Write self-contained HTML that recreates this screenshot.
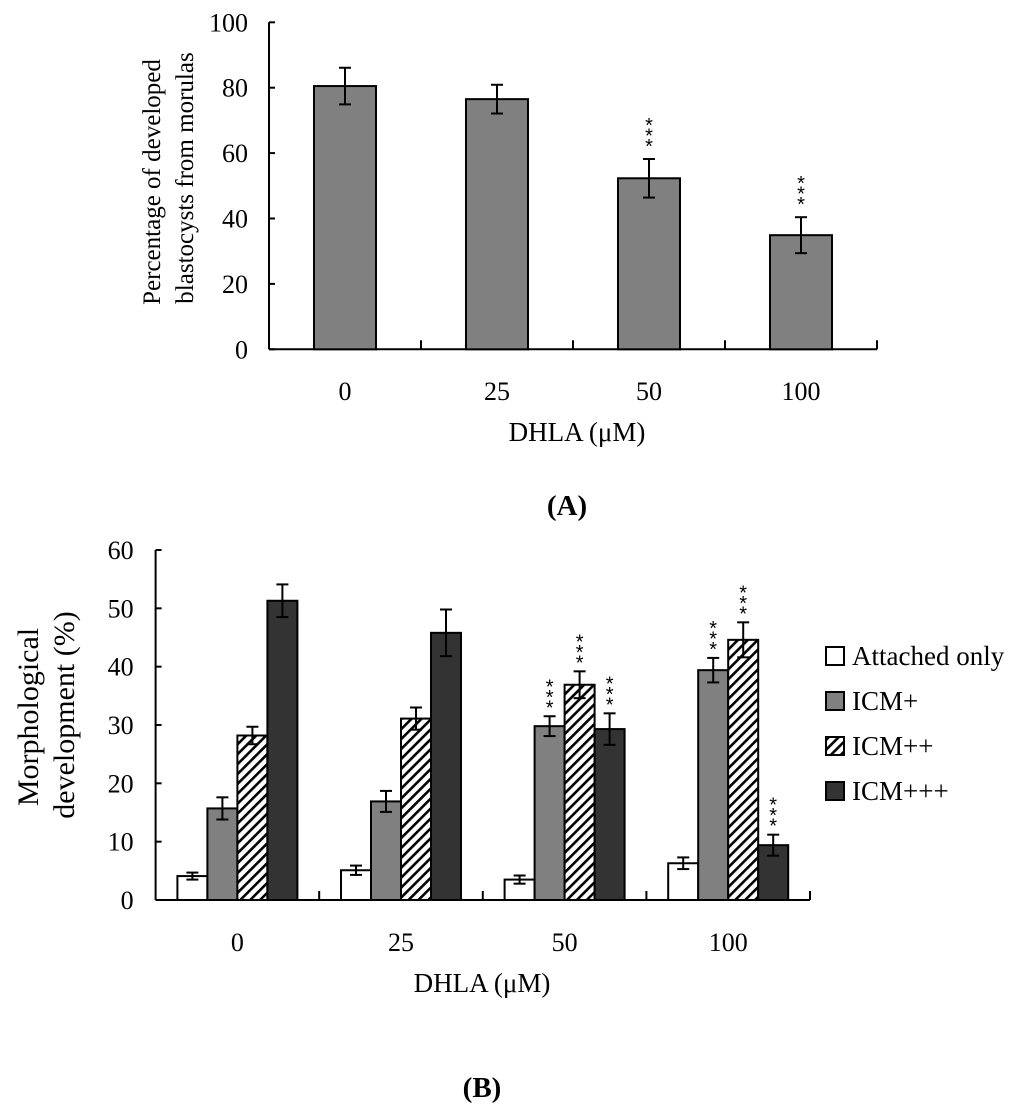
<!DOCTYPE html>
<html><head><meta charset="utf-8"><style>
body{margin:0;background:#fff}
svg{display:block;font-family:"Liberation Serif",serif}
</style></head><body>
<svg id="chart" width="1024" height="1120" viewBox="0 0 1024 1120" xmlns="http://www.w3.org/2000/svg">
<defs><pattern id="hatch" patternUnits="userSpaceOnUse" width="7" height="7" patternTransform="rotate(45)"><rect width="7" height="7" fill="#fff"/><rect x="0" y="0" width="2.6" height="7" fill="#000"/></pattern></defs>
<g id="gA"></g>
<g id="gB"></g>
<text x="160" y="182" font-size="25" text-anchor="middle" transform="rotate(-90 160 182)">Percentage of developed</text>
<text x="193" y="178" font-size="25" text-anchor="middle" transform="rotate(-90 193 178)">blastocysts from morulas</text>
<text x="577" y="441" font-size="27" text-anchor="middle">DHLA (μM)</text>
<text x="567" y="515" font-size="29" font-weight="bold" text-anchor="middle">(A)</text>
<text x="38" y="717" font-size="30" text-anchor="middle" transform="rotate(-90 38 717)">Morphological</text>
<text x="74" y="715" font-size="30" text-anchor="middle" transform="rotate(-90 74 715)">development (%)</text>
<text x="482" y="992" font-size="27" text-anchor="middle">DHLA (μM)</text>
<text x="482" y="1097" font-size="29" font-weight="bold" text-anchor="middle">(B)</text>
</svg>
<script>
const catsA = ["0","25","50","100"];
const valsA = [80.5, 76.5, 52.3, 34.9];
const errA = [5.6, 4.4, 5.9, 5.5];
const sigA = [false, false, true, true];
const ticksA = [0,20,40,60,80,100];

const catsB = ["0","25","50","100"];
const seriesNames = ["Attached only","ICM+","ICM++","ICM+++"];
const attached = [4.1, 5.1, 3.5, 6.3];
const attachedErr = [0.6, 0.8, 0.7, 1.0];
const icm1 = [15.7, 16.9, 29.8, 39.4];
const icm1Err = [1.9, 1.8, 1.7, 2.1];
const icm2 = [28.2, 31.1, 36.9, 44.6];
const icm2Err = [1.5, 1.9, 2.3, 3.0];
const icm3 = [51.3, 45.8, 29.3, 9.4];
const icm3Err = [2.8, 4.0, 2.7, 1.8];
const sigB = [[false,false,false,false],[false,false,true,true],[false,false,true,true],[false,false,true,true]];
const ticksB = [0,10,20,30,40,50,60];

const NS="http://www.w3.org/2000/svg";
function mk(parent,tag,attrs,text){const e=document.createElementNS(NS,tag);for(const k in attrs)e.setAttribute(k,attrs[k]);if(text!==undefined)e.textContent=text;parent.appendChild(e);return e;}
function stars(g,x,errTop,gap){for(let i=0;i<3;i++){const t=mk(g,"text",{x:x,y:errTop-gap+9-i*10.5,"font-size":20,"text-anchor":"middle","font-family":"Liberation Sans,sans-serif"},"*");

}}
function errbar(g,x,y1,y2,cap){mk(g,"line",{x1:x,x2:x,y1:y1,y2:y2,stroke:"#000","stroke-width":2});mk(g,"line",{x1:x-cap,x2:x+cap,y1:y1,y2:y1,stroke:"#000","stroke-width":2});mk(g,"line",{x1:x-cap,x2:x+cap,y1:y2,y2:y2,stroke:"#000","stroke-width":2});}

// Chart A
(function(){
const g=document.getElementById("gA");
const x0=269,x1=877,y0=349.3,yTop=22.3;
const ys=v=>y0-(v/100)*(y0-yTop);
const step=(x1-x0)/catsA.length;
const xc=i=>x0+step*(i+0.5);
mk(g,"line",{x1:x0,x2:x0,y1:yTop,y2:y0,stroke:"#000","stroke-width":2});
mk(g,"line",{x1:x0,x2:x1,y1:y0,y2:y0,stroke:"#000","stroke-width":2});
ticksA.forEach(t=>{mk(g,"line",{x1:x0,x2:x0+6,y1:ys(t),y2:ys(t),stroke:"#000","stroke-width":2});
const l=mk(g,"text",{x:x0-21,y:ys(t)+9,"font-size":26,"text-anchor":"end"},t);

});
for(let i=1;i<=catsA.length;i++)mk(g,"line",{x1:x0+step*i,x2:x0+step*i,y1:y0,y2:y0-9,stroke:"#000","stroke-width":2});
catsA.forEach((c,i)=>{
const b=mk(g,"rect",{x:xc(i)-31,y:ys(valsA[i]),width:62,height:y0-ys(valsA[i]),fill:"#808080",stroke:"#000","stroke-width":2});


errbar(g,xc(i),ys(valsA[i]+errA[i]),ys(valsA[i]-errA[i]),6);
if(sigA[i])stars(g,xc(i),ys(valsA[i]+errA[i]),15);
const l=mk(g,"text",{x:xc(i),y:400,"font-size":26,"text-anchor":"middle"},c);


});
})();

// Chart B
(function(){
const g=document.getElementById("gB");
const x0=155.6,x1=810,y0=900,yTop=550;
const ys=v=>y0-(v/60)*(y0-yTop);
const step=(x1-x0)/catsB.length;
const gc=i=>x0+step*(i+0.5);
const bw=30;
const fills=["#fff","#808080","url(#hatch)","#333"];
const vals=[attached,icm1,icm2,icm3];
const errs=[attachedErr,icm1Err,icm2Err,icm3Err];
mk(g,"line",{x1:x0,x2:x0,y1:yTop,y2:y0,stroke:"#000","stroke-width":2});
mk(g,"line",{x1:x0,x2:x1,y1:y0,y2:y0,stroke:"#000","stroke-width":2});
ticksB.forEach(t=>{mk(g,"line",{x1:x0,x2:x0+6,y1:ys(t),y2:ys(t),stroke:"#000","stroke-width":2});
const l=mk(g,"text",{x:x0-22,y:ys(t)+9,"font-size":26,"text-anchor":"end"},t);

});
for(let i=1;i<=catsB.length;i++)mk(g,"line",{x1:x0+step*i,x2:x0+step*i,y1:y0,y2:y0-9,stroke:"#000","stroke-width":2});
catsB.forEach((c,i)=>{
for(let s=0;s<4;s++){
const x=gc(i)-2*bw+s*bw;
const v=vals[s][i];
const b=mk(g,"rect",{x:x,y:ys(v),width:bw,height:y0-ys(v),fill:fills[s],stroke:"#000","stroke-width":2});


errbar(g,x+bw/2,ys(v+errs[s][i]),ys(v-errs[s][i]),6);
if(sigB[s][i])stars(g,x+bw/2,ys(v+errs[s][i]),11);
}
const l=mk(g,"text",{x:gc(i),y:951,"font-size":26,"text-anchor":"middle"},c);


});
const ly=[665,710,755,800];
seriesNames.forEach((n,s)=>{
const r=mk(g,"rect",{x:826,y:ly[s]-18,width:18,height:18,fill:fills[s],stroke:"#000","stroke-width":2});


const t=mk(g,"text",{x:852,y:ly[s],"font-size":27},n);


});
})();
</script>
</body></html>
